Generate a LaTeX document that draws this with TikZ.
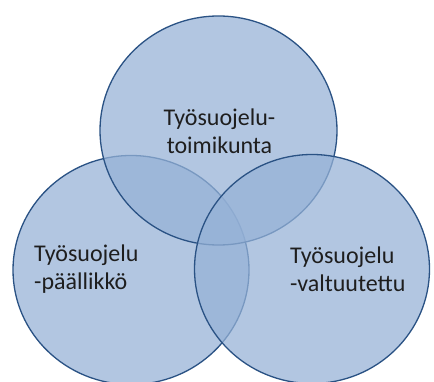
\documentclass[tikz,border=0pt]{standalone}
\usepackage{fontspec}
\setmainfont{Carlito}
\definecolor{circfill}{RGB}{150,178,215}
\definecolor{circline}{RGB}{42,82,132}
\definecolor{txt}{RGB}{30,30,30}
\tikzset{
  venn/.style={fill=circfill, fill opacity=0.73, draw=circline, line width=1.3pt},
  lbl/.style={text=txt, font=\fontsize{24}{28}\selectfont, inner sep=0pt}
}
\begin{document}
\begin{tikzpicture}[x=1pt,y=-1pt]
\useasboundingbox (0,0) rectangle (434,382);
\fill[white] (0,0) rectangle (434,382);
\draw[venn] (131,270) ellipse [x radius=118, y radius=114.5];
\draw[venn] (218.5,130.5) ellipse [x radius=118.5, y radius=114.5];
\draw[venn] (312,269) ellipse [x radius=117.5, y radius=114.5];
\node[lbl, align=center] (top) at (219.5,131) {Työsuojelu-\\toimikunta};
\node[lbl, align=left, anchor=west] (left) at (34,269) {Työsuojelu\\-päällikkö};
\node[lbl, align=left, anchor=west] (right) at (290,269) {Työsuojelu\\-valtuutettu};
\end{tikzpicture}
\end{document}
